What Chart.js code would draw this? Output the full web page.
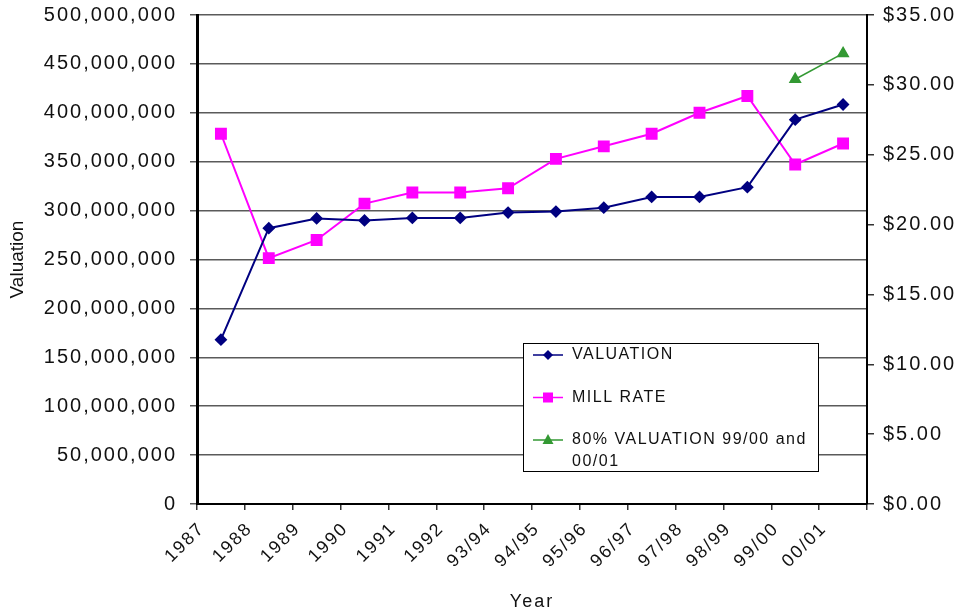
<!DOCTYPE html>
<html>
<head>
<meta charset="utf-8">
<script src="https://cdn.jsdelivr.net/npm/chart.js@4/dist/chart.umd.min.js"></script>
<style>
  body { margin: 0; background: #fff; }
  canvas { display: block; }
</style>
</head>
<body>
<canvas id="chart_one" width="961" height="613"></canvas>
<script>
var years = ["1987", "1988", "1989", "1990", "1991", "1992", "93/94", "94/95",
  "95/96", "96/97", "97/98", "98/99", "99/00", "00/01"];

var valuation = [168000000, 282000000, 292000000, 290000000, 292500000, 292500000,
  298000000, 299000000, 303000000, 314000000, 314000000, 324000000, 393000000, 408500000];

var millRate = [26.5, 17.6, 18.9, 21.5, 22.3, 22.3, 22.6, 24.7, 25.6, 26.5, 28.0, 29.2, 24.3, 25.8];

var millRate80 = [null, null, null, null, null, null, null, null, null, null, null, null, 30.4, 32.25];

var seriesNames = ["VALUATION", "MILL RATE", "80% VALUATION 99/00 and 00/01"];

var textColor = '#111';
var fontFamily = "'Liberation Sans', Arial, sans-serif";

// excel draws its text a bit wider than the font itself
var spacing = {
  id: 'spacing',
  beforeUpdate: function (chart) { chart.ctx.letterSpacing = '2px'; },
  beforeDraw: function (chart) { chart.ctx.letterSpacing = '2px'; }
};

// the rotated axis title is not spaced out
function plainTitle(scale) {
  if (scale._plainTitle) return;
  var orig = scale.drawTitle;
  scale.drawTitle = function () {
    var c = this.ctx;
    var ls = c.letterSpacing;
    c.letterSpacing = '0px';
    orig.apply(this, arguments);
    c.letterSpacing = ls;
  };
  scale._plainTitle = true;
}

function noPad(scale) {
  scale.paddingTop = 0;
  scale.paddingBottom = 0;
}

function marker(ctx, style, x, y, color) {
  ctx.fillStyle = color;
  ctx.beginPath();
  if (style === 'rectRot') {
    ctx.moveTo(x, y - 5); ctx.lineTo(x + 5, y); ctx.lineTo(x, y + 5); ctx.lineTo(x - 5, y);
  } else if (style === 'rect') {
    ctx.rect(x - 5, y - 5, 10, 10);
  } else {
    ctx.moveTo(x, y - 6); ctx.lineTo(x + 5.5, y + 4); ctx.lineTo(x - 5.5, y + 4);
  }
  ctx.closePath();
  ctx.fill();
}

// boxed legend sitting inside the plot, like the spreadsheet one
var boxLegend = {
  id: 'boxLegend',
  afterDraw: function (chart) {
    var ctx = chart.ctx;
    var area = chart.chartArea;
    var left = area.left + 326, top = area.top + 328, w = 295, h = 128;
    ctx.save();
    ctx.letterSpacing = '1.5px';
    ctx.fillStyle = '#fff';
    ctx.fillRect(left, top, w, h);
    ctx.strokeStyle = '#000';
    ctx.lineWidth = 1;
    ctx.strokeRect(left + 0.5, top + 0.5, w, h);
    ctx.font = '16px ' + fontFamily;
    ctx.textBaseline = 'middle';
    var y = top + 12;
    chart.data.datasets.forEach(function (ds) {
      ctx.strokeStyle = ds.borderColor;
      ctx.lineWidth = 1.5;
      ctx.beginPath();
      ctx.moveTo(left + 10, y);
      ctx.lineTo(left + 40, y);
      ctx.stroke();
      marker(ctx, ds.pointStyle, left + 25, y, ds.pointBackgroundColor);
      ctx.fillStyle = textColor;
      var words = ds.label.split(' ');
      var line = '';
      var lineY = y;
      words.forEach(function (word) {
        var test = line ? line + ' ' + word : word;
        if (ctx.measureText(test).width > w - 56 && line) {
          ctx.fillText(line, left + 49, lineY);
          line = word;
          lineY += 22;
        } else {
          line = test;
        }
      });
      ctx.fillText(line, left + 49, lineY);
      y += 42.5;
    });
    ctx.restore();
  }
};

var valuationData = {
  label: seriesNames[0],
  data: valuation,
  yAxisID: 'y',
  borderColor: '#000080',
  backgroundColor: '#000080',
  pointBackgroundColor: '#000080',
  pointBorderColor: '#000080',
  pointStyle: 'rectRot',
  pointRadius: 5,
  borderWidth: 2,
  lineTension: 0
};

var millData = {
  label: seriesNames[1],
  data: millRate,
  yAxisID: 'y2',
  borderColor: '#ff00ff',
  backgroundColor: '#ff00ff',
  pointBackgroundColor: '#ff00ff',
  pointBorderColor: '#ff00ff',
  pointStyle: 'rect',
  pointRadius: 7,
  borderWidth: 2,
  lineTension: 0
};

var mill80Data = {
  label: seriesNames[2],
  data: millRate80,
  yAxisID: 'y2',
  borderColor: '#339933',
  backgroundColor: '#339933',
  pointBackgroundColor: '#339933',
  pointBorderColor: '#339933',
  pointStyle: 'triangle',
  pointRadius: 6,
  borderWidth: 1.5,
  lineTension: 0
};

new Chart(document.getElementById("chart_one"), {
  type: 'line',
  data: {
    labels: years,
    datasets: [valuationData, millData, mill80Data]
  },
  options: {
    responsive: false,
    animation: false,
    layout: { padding: { top: 15, left: 0, right: 0, bottom: 0 } },
    plugins: {
      legend: { display: false },
      tooltip: { enabled: false }
    },
    scales: {
      x: {
        offset: true,
        grid: { offset: true, drawOnChartArea: false, tickLength: 6, color: '#333', lineWidth: 1.5 },
        border: { color: '#000', width: 2 },
        ticks: {
          autoSkip: false, minRotation: 45, maxRotation: 45, labelOffset: -19, padding: 8,
          color: textColor, font: { family: fontFamily, size: 18 }
        },
        title: { display: true, text: 'Year', color: textColor, padding: { top: 0, bottom: 0 }, font: { family: fontFamily, size: 18 } },
        afterFit: function (scale) { scale.height = 109; scale.paddingLeft = 0; scale.paddingRight = 0; }
      },
      y: {
        position: 'left',
        min: 0,
        max: 500000000,
        ticks: {
          stepSize: 50000000, padding: 13, color: textColor,
          font: { family: fontFamily, size: 20 },
          callback: function (v) { return v.toLocaleString('en-US'); }
        },
        grid: { color: '#5a5a5a', lineWidth: 1.5, tickLength: 7 },
        border: { color: '#000', width: 3 },
        title: { display: true, text: 'Valuation', color: textColor, padding: { top: 6, bottom: 0 }, font: { family: fontFamily, size: 19 } },
        afterFit: function (scale) { scale.width = 197; noPad(scale); plainTitle(scale); }
      },
      y2: {
        position: 'right',
        min: 0,
        max: 35,
        ticks: {
          stepSize: 5, padding: 9, color: textColor,
          font: { family: fontFamily, size: 20 },
          callback: function (v) { return '$' + v.toFixed(2); }
        },
        grid: { drawOnChartArea: false, color: '#333', lineWidth: 1.5, tickLength: 7 },
        border: { color: '#000', width: 2 },
        afterFit: function (scale) { scale.width = 94; noPad(scale); }
      }
    }
  },
  plugins: [spacing, boxLegend]
});
</script>
</body>
</html>
